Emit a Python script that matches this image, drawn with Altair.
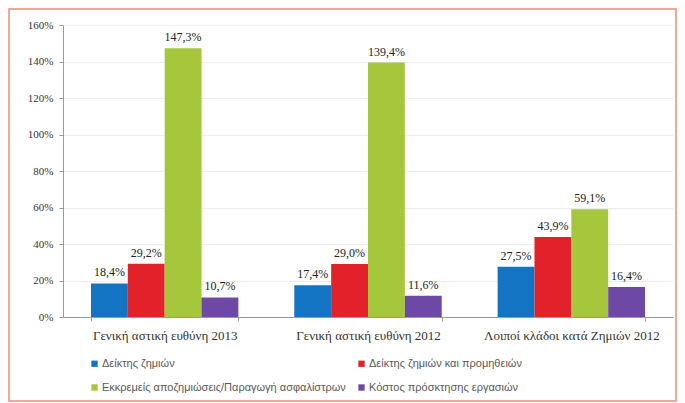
import altair as alt
import pandas as pd

categories = ["Γενική αστική ευθύνη 2013", "Γενική αστική ευθύνη 2012", "Λοιποί κλάδοι κατά Ζημιών 2012"]
series = [
    "Δείκτης ζημιών",
    "Δείκτης ζημιών και προμηθειών",
    "Εκκρεμείς αποζημιώσεις/Παραγωγή ασφαλίστρων",
    "Κόστος πρόσκτησης εργασιών",
]
loss_ratio = [18.4, 17.4, 27.5]
loss_comm_ratio = [29.2, 29.0, 43.9]
outstanding_ratio = [147.3, 139.4, 59.1]
acquisition_cost = [10.7, 11.6, 16.4]
colors = ["#1474c4", "#e3212b", "#a6c63c", "#6d48a4"]
y_ticks = [0, 20, 40, 60, 80, 100, 120, 140, 160]

all_values = [loss_ratio, loss_comm_ratio, outstanding_ratio, acquisition_cost]
rows = []
for s, vals in zip(series, all_values):
    for c, v in zip(categories, vals):
        rows.append({"category": c, "series": s, "value": v,
                     "label": f"{v:.1f}%".replace(".", ",")})
df = pd.DataFrame(rows)

x_enc = alt.X("category:N", sort=categories,
              scale=alt.Scale(paddingInner=0.275, paddingOuter=0.1375),
              axis=alt.Axis(title=None, labelAngle=0, tickBand="extent",
                            labelFont="Liberation Serif", labelFontSize=13,
                            labelColor="#333333", domainColor="#9a9a9a",
                            tickColor="#9a9a9a", tickSize=4, labelPadding=8))
xo_enc = alt.XOffset("series:N", sort=series,
                     scale=alt.Scale(paddingInner=0, paddingOuter=0))
y_enc = alt.Y("value:Q", scale=alt.Scale(domain=[0, 160], nice=False),
              axis=alt.Axis(title=None, values=y_ticks, labelOverlap=False,
                            labelExpr="datum.value + '%'",
                            labelFont="Liberation Serif", labelFontSize=11,
                            labelColor="#333333", domainColor="#9a9a9a",
                            tickColor="#9a9a9a", tickSize=4, labelPadding=6,
                            gridColor="#ececec", gridWidth=1))

base = alt.Chart(df)
bars = base.mark_bar().encode(
    x=x_enc, xOffset=xo_enc, y=y_enc,
    color=alt.Color("series:N", sort=series,
                    scale=alt.Scale(domain=series, range=colors),
                    legend=alt.Legend(title=None, orient="none", legendX=26, legendY=333,
                                      direction="horizontal",
                                      columns=2, symbolType="square", symbolSize=40,
                                      symbolStrokeWidth=0, labelFont="Liberation Sans",
                                      labelFontSize=11, labelColor="#595959",
                                      labelOffset=2, rowPadding=12, columnPadding=10,
                                      labelLimit=400)),
)
text = base.mark_text(baseline="bottom", dy=-4, font="Liberation Serif",
                      fontSize=12, color="#222222").encode(
    x=x_enc, xOffset=xo_enc, y=y_enc, text="label:N")

frame = alt.Chart(pd.DataFrame({"a": [0]})).mark_rect(
    fillOpacity=0, stroke="#f0a898", strokeWidth=2).encode(
    x=alt.value(-54), x2=alt.value(613), y=alt.value(-16), y2=alt.value(376))

chart = alt.layer(bars, text, frame).properties(
    width=610, height=292,
    padding={"left": 55, "top": 17, "right": 4, "bottom": 85},
    autosize=alt.AutoSizeParams(type="none"),
).configure_view(strokeWidth=0)

chart.save("out.html", embed_options={"renderer": "svg", "actions": False})
